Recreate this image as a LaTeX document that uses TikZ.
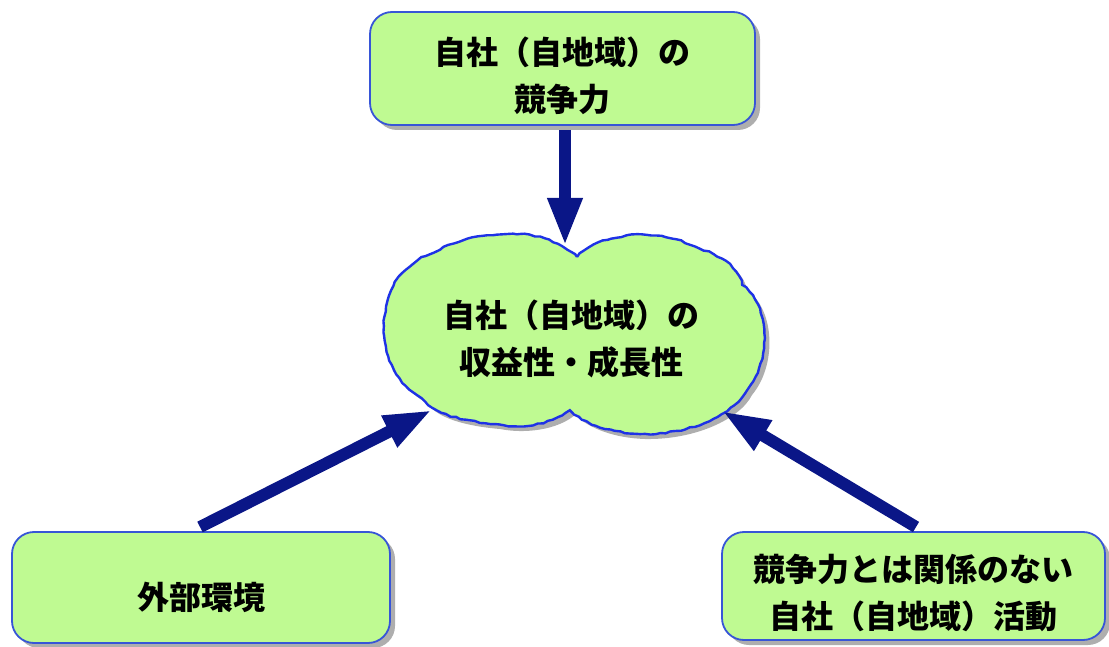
\documentclass[tikz,border=0pt]{standalone}
\usepackage{fontspec}
\newfontfamily\jp{Noto Sans CJK JP}
\usetikzlibrary{arrows.meta,shadows,decorations.pathmorphing}
\definecolor{boxfill}{RGB}{191,250,146}
\definecolor{boxline}{RGB}{55,85,215}
\definecolor{cloudline}{RGB}{30,50,230}
\definecolor{arrowc}{RGB}{10,22,135}
\tikzset{
  box/.style={draw=boxline, line width=1.8pt, fill=boxfill, rounded corners=22pt,
    drop shadow={shadow xshift=5pt, shadow yshift=-5pt, fill=black!45, opacity=0.7}},
  txt/.style={align=center, font=\jp\bfseries\fontsize{32}{47}\selectfont, inner sep=0pt},
  bigarrow/.style={draw=arrowc, line width=12pt,
    -{Triangle[length=48pt,width=32pt]}, shorten >=0pt},
}
\begin{document}
\begin{tikzpicture}[x=1pt,y=-1pt]
\useasboundingbox (0,0) rectangle (1109,647);
\def\cloudpath{(577,257) .. controls (600,232) and (660,228) .. (690,245)
 .. controls (720,255) and (738,265) .. (742,285)
 .. controls (770,305) and (772,360) .. (747,390)
 .. controls (735,414) and (690,435) .. (640,434)
 .. controls (610,433) and (585,424) .. (570,410)
 .. controls (552,425) and (520,429) .. (495,424)
 .. controls (460,421) and (432,413) .. (422,398)
 .. controls (386,380) and (378,330) .. (388,300)
 .. controls (394,272) and (420,256) .. (440,250)
 .. controls (455,240) and (490,232) .. (520,234)
 .. controls (545,236) and (565,245) .. (577,257) -- cycle}
% cloud shadow and body
\fill[black!45, opacity=0.7, shift={(5,5)}] \cloudpath;
\draw[cloudline, line width=2.4pt, fill=boxfill,
  decorate, decoration={random steps, segment length=5pt, amplitude=0.8pt}] \cloudpath;
\node[txt] (cloudtxt) at (571,339) {\fontsize{32}{43}\selectfont 自社（自地域）の\\収益性・成長性};
% boxes
\node[box, minimum width=385pt, minimum height=113pt] (top) at (562.5,68.5) {};
\node[txt] (toptxt) at ([yshift=-7pt]top.center) {自社（自地域）の\\競争力};
\node[box, minimum width=378pt, minimum height=111pt] (left) at (201,587.5) {};
\node[txt] (lefttxt) at ([yshift=-10pt]left.center) {外部環境};
\node[box, minimum width=383pt, minimum height=108pt] (right) at (913.5,586) {};
\node[txt] (righttxt) at ([yshift=-7pt]right.center) {競争力とは関係のない\\自社（自地域）活動};
% arrow end points at cloud border
\coordinate (ctop) at (565,246);
\coordinate (cleft) at (432,410);
\coordinate (cright) at (722,411);
\coordinate (ltail) at (200,527);
\coordinate (rtail) at (916,527);
\draw[bigarrow] (top.south -| ctop) ++(0,4) -- (ctop);
\draw[bigarrow] (ltail) -- (cleft);
\draw[bigarrow] (rtail) -- (cright);
\end{tikzpicture}
\end{document}
